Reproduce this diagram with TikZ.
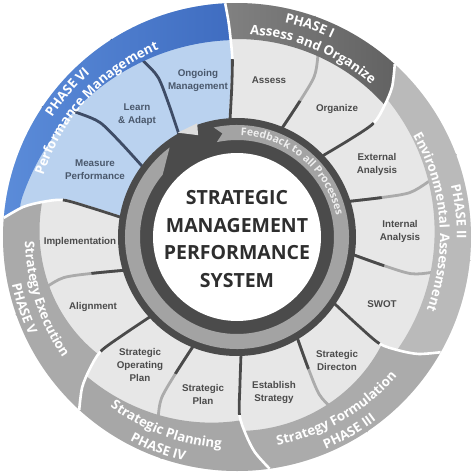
\documentclass[tikz,border=0pt]{standalone}
\usepackage{fontspec}
\setmainfont{Liberation Sans}
\newfontfamily\osans{Open Sans}
\newfontfamily\osanswide{Open Sans}[LetterSpace=9]
\usetikzlibrary{decorations.text}
\definecolor{seggray}{HTML}{E7E7E7}
\definecolor{segblue}{HTML}{BAD2EF}
\definecolor{divdk}{HTML}{4A4A4A}
\definecolor{divlt}{HTML}{ABABAB}
\definecolor{divbl}{HTML}{3E4C66}
\definecolor{ringdk}{HTML}{4B4B4B}
\definecolor{arrowgr}{HTML}{A3A3A3}
\definecolor{labgray}{HTML}{4B4B4B}
\definecolor{labblue}{HTML}{4A586C}
\definecolor{titlecol}{HTML}{2E2E2E}
\definecolor{fbtext}{HTML}{EEEEEE}
\definecolor{bandVIa}{HTML}{5C8DDA}
\definecolor{bandVIb}{HTML}{3A67BC}
\definecolor{bandIa}{HTML}{8A8A8A}
\definecolor{bandIb}{HTML}{5A5A5A}
\definecolor{bandII}{HTML}{BABABA}
\definecolor{bandIII}{HTML}{ABABAB}
\definecolor{bandIV}{HTML}{A7A7A7}
\definecolor{bandV}{HTML}{AAAAAA}
\definecolor{notchgr}{HTML}{DDDDDD}

% divider curve from inner ring to outer edge: #1 angle, #2 shift at r=178, #3 shift at outer edge
\newcommand{\cfwd}[3]{plot[smooth] coordinates {({#1}:116) ({#1+0.75*(#2)}:150) ({#1+(#2)}:178) ({#1+(#2)+0.25*((#3)-(#2))}:198) ({#1+(#2)+0.55*((#3)-(#2))}:216) ({#1+(#3)}:234)}}
\newcommand{\cfwdL}[3]{-- plot[smooth] coordinates {({#1}:116) ({#1+0.75*(#2)}:150) ({#1+(#2)}:178) ({#1+(#2)+0.25*((#3)-(#2))}:198) ({#1+(#2)+0.55*((#3)-(#2))}:216) ({#1+(#3)}:234)}}
\newcommand{\crevL}[3]{-- plot[smooth] coordinates {({#1+(#3)}:234) ({#1+(#2)+0.55*((#3)-(#2))}:216) ({#1+(#2)+0.25*((#3)-(#2))}:198) ({#1+(#2)}:178) ({#1+0.75*(#2)}:150) ({#1}:116)}}
\newcommand{\secpath}[6]{({#1}:116) \cfwdL{#1}{#2}{#3} arc[start angle={#1+(#3)}, end angle={#4+(#6)}, radius=234pt] \crevL{#4}{#5}{#6} arc[start angle={#4}, end angle={#1}, radius=116pt] -- cycle}
\newcommand{\bandpath}[5]{({#1-12}:240) arc[start angle={#1-12}, end angle={#2+12}, radius=240pt] -- plot[domain=#2+12:#1-12, samples=80, variable=\t] ({\t}:{#3+(#4-#3)*(#5*clampS(\t,#1,#2)^2+(1-#5)*clampS(\t,#1,#2))}) -- cycle}
\newcommand{\toparc}[5][\osans]{\path[phasetext={#1}{#5}] ({#2+#3}:#4) arc[start angle={#2+#3}, end angle={#2-#3}, radius=#4pt];}
\newcommand{\botarc}[5][\osans]{\path[phasetext={#1}{#5}] ({#2-#3}:#4) arc[start angle={#2-#3}, end angle={#2+#3}, radius=#4pt];}

\tikzset{
  phasetext/.style 2 args={decorate, decoration={text along path, text align=center, text color=white,
      text={|#1\bfseries\fontsize{13.2}{15}\selectfont|#2}}},
  divlight/.style={line width=2.8pt, divlt},
  divdark/.style={line width=2.8pt, divdk},
  divblue/.style={line width=2.8pt, divbl},
  bwhite/.style={line width=2.6pt, white},
  seglab/.style={align=center, font=\bfseries\fontsize{9.8}{13}\selectfont, text=labgray, inner sep=0pt},
  seglabb/.style={seglab, text=labblue}
}

\begin{document}
\begin{tikzpicture}[x=1pt, y=1pt,
  declare function={clampS(\p,\q,\w)=max(0,min(1,(\p-\q)/(\w-\q)));}]
\useasboundingbox (-237,-237) rectangle (237,237);

% segment ring
\fill[seggray] (0,0) circle[radius=234pt];
\fill[segblue] \secpath{93.5}{-2}{-0.6}{170.5}{-2.5}{4.8};

% internal dividers
\foreach \th in {67.7,17.8,351.5,301,248.3,196.6} {\draw[divlight] \cfwd{\th}{-3.4}{3};}
\begin{scope}
  \clip (0,0) circle[radius=150pt];
  \foreach \th in {67.7,17.8,351.5,301,248.3,196.6} {\draw[divdark] \cfwd{\th}{-3.4}{3};}
\end{scope}
\foreach \th in {143.5,119.7} {\draw[divblue] \cfwd{\th}{-3.4}{3};}

% phase bands
\begin{scope}
  \clip \secpath{43.7}{-3.9}{3.9}{93.5}{-2}{-0.6};
  \shade[left color=bandIa, right color=bandIb] \bandpath{43.7}{93.5}{198}{198}{0};
\end{scope}
\begin{scope}
  \clip \secpath{325.8}{-2.6}{4.7}{403.7}{-3.9}{3.9};
  \fill[bandII] \bandpath{325.8}{403.7}{196}{204}{1};
\end{scope}
\begin{scope}
  \clip \secpath{272}{-1.2}{6}{325.8}{-2.6}{4.7};
  \fill[bandIII] \bandpath{272}{325.8}{194}{179}{1};
\end{scope}
\begin{scope}
  \clip \secpath{222.7}{-2.7}{4.9}{272}{-1.2}{6};
  \fill[bandIV] \bandpath{222.7}{272}{205}{183}{0};
\end{scope}
\begin{scope}
  \clip \secpath{170.5}{-2.5}{4.8}{222.7}{-2.7}{4.9};
  \fill[bandV] \bandpath{170.5}{222.7}{198}{180}{1};
\end{scope}
\begin{scope}
  \clip \secpath{93.5}{-2}{-0.6}{170.5}{-2.5}{4.8};
  \shade[left color=bandVIa, right color=bandVIb] \bandpath{93.5}{170.5}{197}{219}{1};
\end{scope}

% phase boundaries
\draw[bwhite] \cfwd{93.5}{-2}{-0.6};
\draw[bwhite] \cfwd{43.7}{-3.9}{3.9};
\draw[bwhite] \cfwd{325.8}{-2.6}{4.7};
\draw[bwhite] \cfwd{272}{-1.2}{6};
\draw[bwhite] \cfwd{222.7}{-2.7}{4.9};
\draw[bwhite] \cfwd{170.5}{-2.5}{4.8};
\begin{scope}
  \clip (0,0) circle[radius=178pt];
  \draw[divdark] \cfwd{93.5}{-2}{-0.6};
  \draw[divdark] \cfwd{43.7}{-3.9}{3.9};
  \draw[divdark] \cfwd{325.8}{-2.6}{4.7};
  \draw[divdark] \cfwd{272}{-1.2}{6};
  \draw[divdark] \cfwd{222.7}{-2.7}{4.9};
  \draw[divdark] \cfwd{170.5}{-2.5}{4.8};
\end{scope}

% centre
\fill[ringdk] (0,0) circle[radius=119pt];
\fill[notchgr] (119.6:120) -- (109.3:120.5) -- (110.9:109) -- cycle;
\fill[arrowgr] (102:112) arc[start angle=102, end angle=-233, radius=112pt] -- (-220:97)
  arc[start angle=-220, end angle=102, radius=97pt] -- (98:104.5) -- cycle;
\fill[white] (0,0) circle[radius=84pt];

\path[decorate, decoration={text along path, text align=center, text color=fbtext,
  text={|\osans\bfseries\fontsize{10.6}{12}\selectfont|Feedback to all Processes}}]
  (120:101.5) arc[start angle=120, end angle=-20, radius=101.5pt];

\node[align=center, font=\osans\bfseries\fontsize{19.5}{27.5}\selectfont, text=titlecol] (title) at (0,-2)
  {STRATEGIC\\MANAGEMENT\\PERFORMANCE\\SYSTEM};

% segment labels
\node[seglab] (assess) at (32,157) {Assess};
\node[seglab] (organize) at (100,128) {Organize};
\node[seglab] (external) at (140,73) {External\\Analysis};
\node[seglab] (internal) at (163,6) {Internal\\Analysis};
\node[seglab] (swot) at (145,-67) {SWOT};
\node[seglab] (direction) at (100,-123) {Strategic\\Directon};
\node[seglab] (establish) at (37,-155) {Establish\\Strategy};
\node[seglab] (splan) at (-34,-157) {Strategic\\Plan};
\node[seglab] (soplan) at (-97,-128) {Strategic\\Operating\\Plan};
\node[seglab] (alignment) at (-144,-70) {Alignment};
\node[seglab] (implementation) at (-157,-5) {Implementation};
\node[seglabb] (measure) at (-142,67) {Measure\\Performance};
\node[seglabb] (learn) at (-100,122) {Learn\\\& Adapt};
\node[seglabb] (ongoing) at (-39,157) {Ongoing\\Management};

% phase labels
\toparc{71}{40}{220}{PHASE I}
\toparc{67.5}{40}{203}{Assess and Organize}
\toparc{6.5}{40}{220}{PHASE II}
\toparc[\osanswide]{4.5}{50}{203}{Environmental Assessment}
\toparc{139.5}{40}{220}{PHASE VI}
\toparc{137.5}{45}{203}{Performance Management}
\botarc{300}{40}{212}{Strategy Formulation}
\botarc{300}{40}{230}{PHASE III}
\botarc{249.5}{40}{212}{Strategic Planning}
\botarc{249.5}{40}{230}{PHASE IV}
\botarc{198}{40}{212}{Strategy Execution}
\botarc{198.6}{40}{230}{PHASE V}
\end{tikzpicture}
\end{document}
